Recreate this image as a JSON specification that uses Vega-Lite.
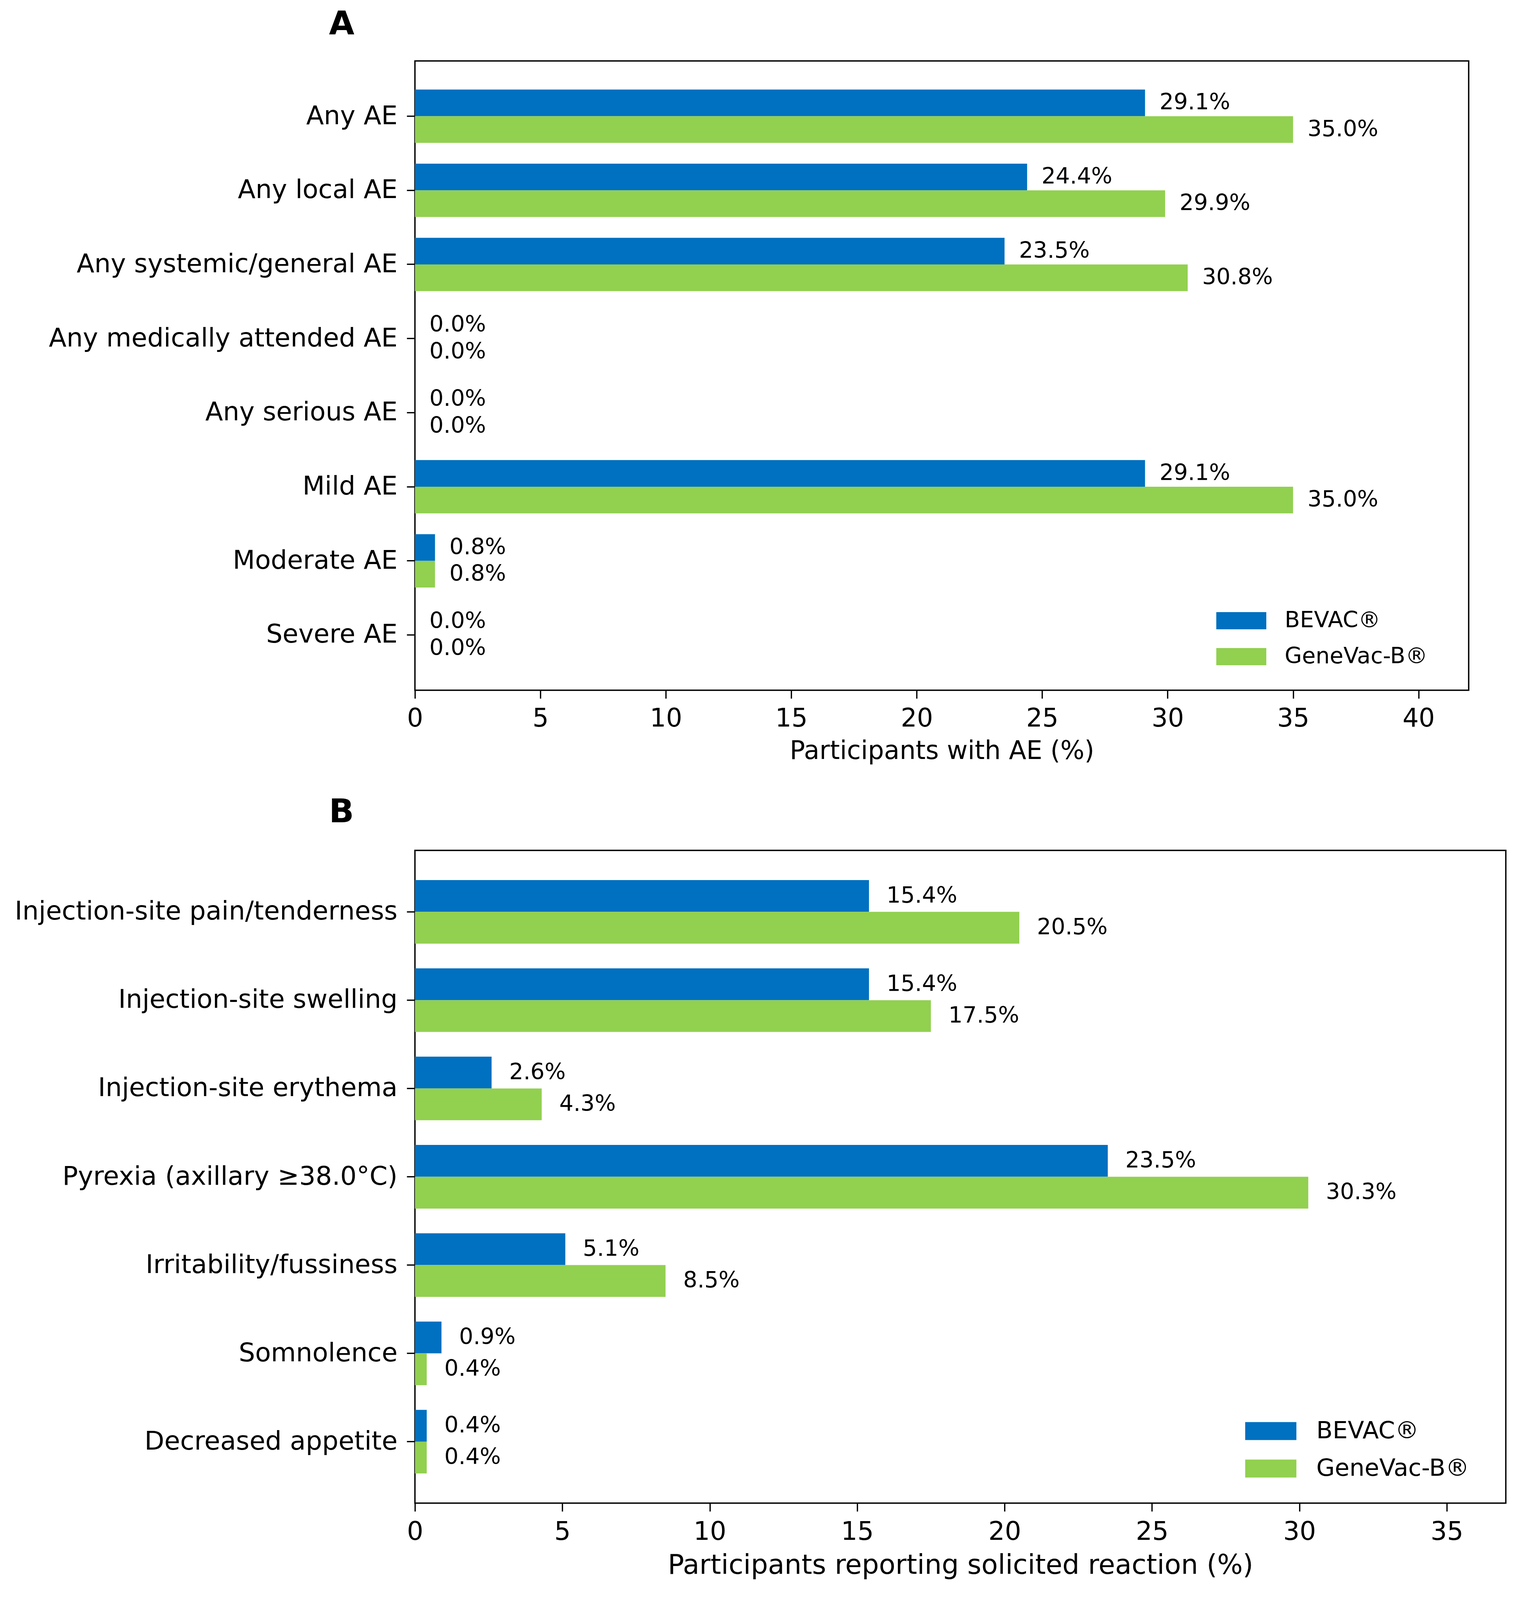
{
  "$schema": "https://vega.github.io/schema/vega-lite/v6.json",
  "background": "white",
  "padding": {"left": 35, "top": 19, "right": 10, "bottom": 5},
  "config": {
    "font": "DejaVu Sans",
    "view": {"stroke": "#000000", "strokeWidth": 3.5},
    "axis": {
      "domain": false,
      "grid": false,
      "tickColor": "#000000",
      "tickWidth": 3.3,
      "tickSize": 21,
      "labelColor": "#000000",
      "titleColor": "#000000",
      "labelFont": "DejaVu Sans",
      "titleFont": "DejaVu Sans",
      "titleFontWeight": "normal",
      "labelLimit": 3000
    },
    "axisX": {"labelFlush": false},
    "legend": {
      "orient": "none",
      "title": null,
      "padding": 0,
      "symbolStrokeWidth": 0,
      "symbolOpacity": 1,
      "labelColor": "#000000",
      "labelFont": "DejaVu Sans",
      "labelLimit": 1000
    },
    "title": {
      "font": "DejaVu Sans",
      "fontWeight": "bold",
      "fontSize": 84,
      "anchor": "start",
      "frame": "group",
      "color": "#000000",
      "baseline": "alphabetic"
    }
  },
  "bounds": "flush",
  "spacing": 410,
  "resolve": {
    "scale": {"x": "independent", "y": "independent", "yOffset": "independent", "color": "independent"},
    "legend": {"color": "independent"}
  },
  "vconcat": [
    {
      "title": {"text": "A", "dx": -220, "offset": 50},
      "width": 2697,
      "height": 1611,
      "data": {
        "values": [
          {"item": "Any AE", "vaccine": "BEVAC®", "value": 29.1, "label": "29.1%"},
          {"item": "Any AE", "vaccine": "GeneVac-B®", "value": 35.0, "label": "35.0%"},
          {"item": "Any local AE", "vaccine": "BEVAC®", "value": 24.4, "label": "24.4%"},
          {"item": "Any local AE", "vaccine": "GeneVac-B®", "value": 29.9, "label": "29.9%"},
          {"item": "Any systemic/general AE", "vaccine": "BEVAC®", "value": 23.5, "label": "23.5%"},
          {"item": "Any systemic/general AE", "vaccine": "GeneVac-B®", "value": 30.8, "label": "30.8%"},
          {"item": "Any medically attended AE", "vaccine": "BEVAC®", "value": 0.0, "label": "0.0%"},
          {"item": "Any medically attended AE", "vaccine": "GeneVac-B®", "value": 0.0, "label": "0.0%"},
          {"item": "Any serious AE", "vaccine": "BEVAC®", "value": 0.0, "label": "0.0%"},
          {"item": "Any serious AE", "vaccine": "GeneVac-B®", "value": 0.0, "label": "0.0%"},
          {"item": "Mild AE", "vaccine": "BEVAC®", "value": 29.1, "label": "29.1%"},
          {"item": "Mild AE", "vaccine": "GeneVac-B®", "value": 35.0, "label": "35.0%"},
          {"item": "Moderate AE", "vaccine": "BEVAC®", "value": 0.8, "label": "0.8%"},
          {"item": "Moderate AE", "vaccine": "GeneVac-B®", "value": 0.8, "label": "0.8%"},
          {"item": "Severe AE", "vaccine": "BEVAC®", "value": 0.0, "label": "0.0%"},
          {"item": "Severe AE", "vaccine": "GeneVac-B®", "value": 0.0, "label": "0.0%"}
        ]
      },
      "encoding": {
        "y": {
          "field": "item",
          "type": "nominal",
          "sort": null,
          "scale": {"paddingInner": 0.28, "paddingOuter": 0.386},
          "axis": {"title": null, "labelFontSize": 66, "labelPadding": 24}
        },
        "yOffset": {"field": "vaccine", "type": "nominal", "sort": ["BEVAC®", "GeneVac-B®"]},
        "x": {
          "field": "value",
          "type": "quantitative",
          "scale": {"domain": [0, 42], "nice": false},
          "axis": {
            "values": [0, 5, 10, 15, 20, 25, 30, 35, 40],
            "title": "Participants with AE (%)",
            "labelFontSize": 65,
            "titleFontSize": 65,
            "labelPadding": 20,
            "titlePadding": 19
          }
        }
      },
      "layer": [
        {
          "mark": {"type": "bar"},
          "encoding": {
            "color": {
              "field": "vaccine",
              "type": "nominal",
              "scale": {"domain": ["BEVAC®", "GeneVac-B®"], "range": ["#0070C0", "#92D050"]},
              "legend": {
                "legendX": 2051,
                "legendY": 1369,
                "rowPadding": -38,
                "symbolType": "M-1,-0.344H1V0.344H-1Z",
                "symbolSize": 16384,
                "labelFontSize": 57,
                "labelOffset": 47
              }
            }
          }
        },
        {
          "mark": {"type": "text", "align": "left", "baseline": "middle", "dx": 37, "fontSize": 57, "color": "#000000"},
          "encoding": {"text": {"field": "label", "type": "nominal"}}
        }
      ]
    },
    {
      "title": {"text": "B", "dx": -220, "offset": 54},
      "width": 2792,
      "height": 1671,
      "data": {
        "values": [
          {"item": "Injection-site pain/tenderness", "vaccine": "BEVAC®", "value": 15.4, "label": "15.4%"},
          {"item": "Injection-site pain/tenderness", "vaccine": "GeneVac-B®", "value": 20.5, "label": "20.5%"},
          {"item": "Injection-site swelling", "vaccine": "BEVAC®", "value": 15.4, "label": "15.4%"},
          {"item": "Injection-site swelling", "vaccine": "GeneVac-B®", "value": 17.5, "label": "17.5%"},
          {"item": "Injection-site erythema", "vaccine": "BEVAC®", "value": 2.6, "label": "2.6%"},
          {"item": "Injection-site erythema", "vaccine": "GeneVac-B®", "value": 4.3, "label": "4.3%"},
          {"item": "Pyrexia (axillary ≥38.0°C)", "vaccine": "BEVAC®", "value": 23.5, "label": "23.5%"},
          {"item": "Pyrexia (axillary ≥38.0°C)", "vaccine": "GeneVac-B®", "value": 30.3, "label": "30.3%"},
          {"item": "Irritability/fussiness", "vaccine": "BEVAC®", "value": 5.1, "label": "5.1%"},
          {"item": "Irritability/fussiness", "vaccine": "GeneVac-B®", "value": 8.5, "label": "8.5%"},
          {"item": "Somnolence", "vaccine": "BEVAC®", "value": 0.9, "label": "0.9%"},
          {"item": "Somnolence", "vaccine": "GeneVac-B®", "value": 0.4, "label": "0.4%"},
          {"item": "Decreased appetite", "vaccine": "BEVAC®", "value": 0.4, "label": "0.4%"},
          {"item": "Decreased appetite", "vaccine": "GeneVac-B®", "value": 0.4, "label": "0.4%"}
        ]
      },
      "encoding": {
        "y": {
          "field": "item",
          "type": "nominal",
          "sort": null,
          "scale": {"paddingInner": 0.28, "paddingOuter": 0.336},
          "axis": {"title": null, "labelFontSize": 66, "labelPadding": 24}
        },
        "yOffset": {"field": "vaccine", "type": "nominal", "sort": ["BEVAC®", "GeneVac-B®"]},
        "x": {
          "field": "value",
          "type": "quantitative",
          "scale": {"domain": [0, 37], "nice": false},
          "axis": {
            "values": [0, 5, 10, 15, 20, 25, 30, 35],
            "title": "Participants reporting solicited reaction (%)",
            "labelFontSize": 66,
            "titleFontSize": 69,
            "labelPadding": 20,
            "titlePadding": 19
          }
        }
      },
      "layer": [
        {
          "mark": {"type": "bar"},
          "encoding": {
            "color": {
              "field": "vaccine",
              "type": "nominal",
              "scale": {"domain": ["BEVAC®", "GeneVac-B®"], "range": ["#0070C0", "#92D050"]},
              "legend": {
                "legendX": 2125,
                "legendY": 1421,
                "rowPadding": -39,
                "symbolType": "M-1,-0.351H1V0.351H-1Z",
                "symbolSize": 17161,
                "labelFontSize": 61,
                "labelOffset": 51
              }
            }
          }
        },
        {
          "mark": {"type": "text", "align": "left", "baseline": "middle", "dx": 45, "fontSize": 57, "color": "#000000"},
          "encoding": {"text": {"field": "label", "type": "nominal"}}
        }
      ]
    }
  ]
}
